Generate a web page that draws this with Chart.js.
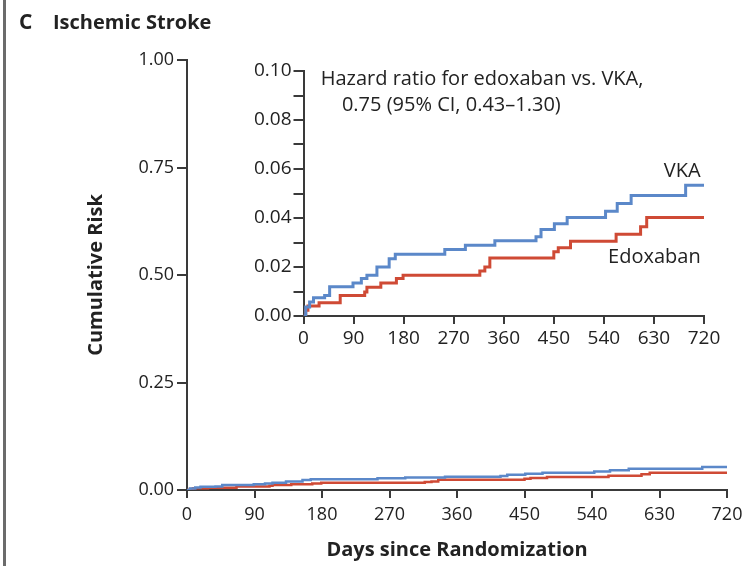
<!DOCTYPE html>
<html lang="en">
<head>
    <meta charset="UTF-8">
    <title>Ischemic Stroke</title>
    <script src="https://cdn.jsdelivr.net/npm/chart.js"></script>
    <style>
        body { margin: 0; background: #fff; }
        #wrap { position: relative; width: 743px; height: 566px; }
        #edge { position: absolute; left: 3px; top: 0; width: 3px; height: 566px; background: #6b6b6b; }
        #mainChart { position: absolute; left: 0; top: 0; }
        #insetChart { position: absolute; left: 230px; top: 50px; }
    </style>
</head>
<body>
<div id="wrap">
    <div id="edge"></div>
    <canvas id="mainChart" width="743" height="566"></canvas>
    <canvas id="insetChart" width="500" height="310"></canvas>
</div>
<script>
    // step times (days) and cumulative risk after each step
    const vkaDays = [4, 11, 18, 38, 47, 89, 104, 114, 132, 154, 165, 254, 291, 344, 418, 427, 451, 474, 543, 564, 589, 687];
    const vkaRisk = [0.0037, 0.0057, 0.0074, 0.0084, 0.0119, 0.0135, 0.0153, 0.0166, 0.0200, 0.0234, 0.0252, 0.0271,
                     0.0289, 0.0307, 0.0323, 0.0353, 0.0377, 0.0402, 0.0428, 0.0459, 0.0492, 0.0534];
    const edoDays = [4, 8, 28, 66, 110, 114, 139, 167, 179, 317, 326, 335, 450, 458, 480, 562, 606, 617];
    const edoRisk = [0.0023, 0.0041, 0.0054, 0.0084, 0.0098, 0.0117, 0.0135, 0.0153, 0.0166, 0.0184, 0.0200, 0.0237,
                     0.0262, 0.0279, 0.0305, 0.0334, 0.0364, 0.0402];
    const lastDay = 720;
    const dayTicks = [0, 90, 180, 270, 360, 450, 540, 630, 720];

    const FONT = "'Open Sans', sans-serif";
    const ink = '#222222';
    const axisColor = '#3a3a3a';
    const blue = '#5b88c9';
    const red = '#cf4a35';

    // build step points: start at 0, one point per event, carry last value to day 720
    function steps(days, risk) {
        const pts = [{ x: 0, y: 0 }];
        days.forEach((d, i) => pts.push({ x: d, y: risk[i] }));
        pts.push({ x: lastDay, y: risk[risk.length - 1] });
        return pts;
    }

    function series(label, days, risk, color, width) {
        return {
            label: label,
            data: steps(days, risk),
            borderColor: color,
            borderWidth: width,
            stepped: true,
            pointRadius: 0,
            fill: false
        };
    }

    const tickFont = { family: FONT, size: 18 };
    const insetTickFont = { family: FONT, size: 19 };

    // text drawn inside the plot (panel title, hazard ratio note, curve labels)
    const textPlugin = {
        id: 'texts',
        afterDraw(chart, args, opts) {
            const ctx = chart.ctx;
            ctx.save();
            ctx.fillStyle = ink;
            opts.items.forEach(t => {
                ctx.font = t.font;
                ctx.textAlign = t.align || 'left';
                ctx.textBaseline = 'middle';
                let x = t.x, y = t.y;
                if (t.scaled) {
                    x = chart.scales.x.getPixelForValue(t.x);
                    y = chart.scales.y.getPixelForValue(t.y);
                }
                ctx.fillText(t.text, x, y);
            });
            ctx.restore();
        }
    };

    new Chart(document.getElementById('mainChart'), {
        type: 'line',
        data: {
            datasets: [
                series('VKA', vkaDays, vkaRisk, blue, 2.5),
                series('Edoxaban', edoDays, edoRisk, red, 2.5)
            ]
        },
        plugins: [textPlugin],
        options: {
            responsive: false,
            animation: false,
            devicePixelRatio: 1,
            layout: { padding: { left: 0, right: 16, top: 60, bottom: 0 } },
            plugins: {
                legend: { display: false },
                tooltip: { enabled: false },
                texts: {
                    items: [
                        { text: 'C', x: 19, y: 23, font: "bold 21px " + FONT },
                        { text: 'Ischemic Stroke', x: 53, y: 23, font: "bold 20px " + FONT }
                    ]
                }
            },
            scales: {
                x: {
                    type: 'linear',
                    min: 0,
                    max: lastDay,
                    afterBuildTicks: s => { s.ticks = dayTicks.map(v => ({ value: v })); },
                    afterFit: s => { s.height = 76; s.paddingRight = 0; s.paddingLeft = 0; },
                    ticks: { font: tickFont, color: ink, padding: 6, maxRotation: 0, autoSkip: false },
                    grid: { drawOnChartArea: false, tickLength: 8, color: axisColor, lineWidth: 2 },
                    border: { color: axisColor, width: 2 },
                    title: {
                        display: true,
                        text: 'Days since Randomization',
                        color: ink,
                        font: { family: FONT, size: 20, weight: 'bold' },
                        padding: { top: 0, bottom: 4 }
                    }
                },
                y: {
                    min: 0,
                    max: 1,
                    afterFit: s => { s.width = 187; },
                    ticks: { stepSize: 0.25, font: tickFont, color: ink, padding: 3, callback: v => v.toFixed(2) },
                    grid: { drawOnChartArea: false, tickLength: 10, color: axisColor, lineWidth: 2 },
                    border: { color: axisColor, width: 2 },
                    title: {
                        display: true,
                        text: 'Cumulative Risk',
                        color: ink,
                        font: { family: FONT, size: 20, weight: 'bold' },
                        padding: { top: 84, bottom: 0 }
                    }
                }
            }
        }
    });

    new Chart(document.getElementById('insetChart'), {
        type: 'line',
        data: {
            datasets: [
                series('VKA', vkaDays, vkaRisk, blue, 3),
                series('Edoxaban', edoDays, edoRisk, red, 3)
            ]
        },
        plugins: [textPlugin],
        options: {
            responsive: false,
            animation: false,
            devicePixelRatio: 1,
            layout: { padding: { left: 0, right: 26, top: 21, bottom: 0 } },
            plugins: {
                legend: { display: false },
                tooltip: { enabled: false },
                texts: {
                    items: [
                        { text: 'Hazard ratio for edoxaban vs. VKA,', x: 31, y: 0.0967, scaled: true, font: "20px " + FONT },
                        { text: '0.75 (95% CI, 0.43\u20131.30)', x: 69, y: 0.0861, scaled: true, font: "20px " + FONT },
                        { text: 'VKA', x: 714, y: 0.0592, scaled: true, align: 'right', font: "20px " + FONT },
                        { text: 'Edoxaban', x: 714, y: 0.0241, scaled: true, align: 'right', font: "20px " + FONT }
                    ]
                }
            },
            scales: {
                x: {
                    type: 'linear',
                    min: 0,
                    max: lastDay,
                    afterBuildTicks: s => { s.ticks = dayTicks.map(v => ({ value: v })); },
                    afterFit: s => { s.height = 44; s.paddingRight = 0; s.paddingLeft = 0; },
                    ticks: { font: insetTickFont, color: ink, padding: 3, maxRotation: 0, autoSkip: false },
                    grid: { drawOnChartArea: false, tickLength: 8, color: axisColor, lineWidth: 2 },
                    border: { color: axisColor, width: 2 }
                },
                y: {
                    min: 0,
                    max: 0.1,
                    afterFit: s => { s.width = 73.5; },
                    ticks: {
                        stepSize: 0.01,
                        font: insetTickFont,
                        color: ink,
                        padding: 2,
                        autoSkip: false,
                        callback: v => (Math.round(v * 100) % 2 === 0 ? v.toFixed(2) : '')
                    },
                    grid: { drawOnChartArea: false, tickLength: 10, color: axisColor, lineWidth: 2 },
                    border: { color: axisColor, width: 2 }
                }
            }
        }
    });
</script>
</body>
</html>
